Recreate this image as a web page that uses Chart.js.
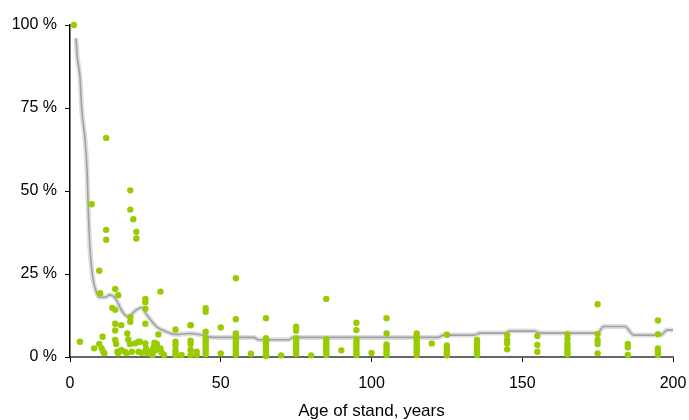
<!DOCTYPE html>
<html>
<head>
<meta charset="utf-8">
<script src="https://cdn.jsdelivr.net/npm/chart.js@4/dist/chart.umd.min.js"></script>
<style>
  html, body { margin: 0; padding: 0; background: #fff; }
  #wrap { width: 689px; height: 420px; position: relative; }
</style>
</head>
<body>
<div id="wrap"><canvas id="ageChart"></canvas></div>
<script>
// young stands, single observations (age in years, share in %)
const youngAges = [1.3, 3.3, 7.2, 8, 9.7, 9.7, 10, 10.5, 10.8, 11, 11.4, 12, 12, 12,
  14, 15, 15, 15, 15, 15, 15.3, 15.7, 16, 16, 17, 17, 18.2, 18.8, 19, 19.3, 19.9,
  20, 20, 20, 20, 20.5, 21, 21.6, 22, 22, 22.7, 22.7, 23.2, 23.8, 25, 25, 25, 25,
  25, 25.2, 25.6, 26.5, 27.4, 27.6, 28, 28, 28.5, 28.8, 29.3, 30, 30, 30.4, 31.2];
const youngShares = [100, 4.6, 46, 2.6, 3.9, 26, 19.2, 2.6, 6.1, 1.6, 1.1, 66, 38.3, 35.3,
  14.8, 20.5, 14.2, 10, 8, 5.1, 3.9, 1.6, 18.6, 1.1, 9.6, 2.1, 1.6, 1.1, 7.1, 5.3, 3.9,
  50.2, 44.4, 12, 10.6, 1.6, 41.5, 4.1, 37.7, 35.7, 4.6, 1.6, 4.6, 1.3, 17.5, 16.5, 14.5, 10,
  4.1, 2.6, 1.1, 1.6, 0.6, 2.6, 4.3, 3.3, 2.1, 3.9, 6.8, 19.7, 2.6, 1.3, 0.6];

// older stands, grouped by age class
const classAges = [35, 37, 40, 42, 45, 50, 55, 60, 65, 70, 75, 80, 85, 90, 95, 100, 105,
  115, 120, 125, 135, 145, 155, 165, 175, 185, 195];
const classShares = [
  [8.3, 4.6, 3.6, 2.1, 1.2, 0.6],
  [0.6],
  [9.6, 9.6, 4.9, 3.9, 2.1, 0.6],
  [1.6, 0.6],
  [14.7, 13.6, 7.6, 5.6, 4.8, 4, 3.2, 2.4, 1.6, 0.8],
  [8.9, 1.1],
  [23.7, 11.4, 7.1, 6.3, 5.5, 4.7, 3.9, 3.1, 2.3, 1.5, 0.7],
  [1],
  [11.7, 5.7, 4.9, 4.1, 3.3, 2.5, 1.7, 0.9, 0.3],
  [0.5],
  [9.1, 7.9, 5.7, 4.9, 4.1, 3.3, 2.5, 1.7, 0.9],
  [0.5],
  [17.5, 5.3, 4.5, 3.7, 2.9, 2.1, 1.3, 0.6],
  [2],
  [10.3, 8.1, 5.3, 4.5, 3.7, 2.9, 2.1, 1.3, 0.6],
  [1.2],
  [11.7, 7.1, 3.8, 3, 2.2, 1.4, 0.6],
  [7.1, 6.2, 5.4, 4.6, 3.8, 3, 2.2, 1.4, 0.6],
  [4.1],
  [6.7, 3.5, 2.7, 1.9, 1.1, 0.5],
  [5.1, 4.3, 3.5, 2.7, 1.9, 1.1, 0.6],
  [6.6, 5.1, 4.1, 2.3],
  [6.3, 3.6, 1.6],
  [6.9, 5.5, 4.1, 3.2, 2.3, 1.4, 0.8],
  [15.9, 6.9, 5.1, 3.9, 1.1],
  [3.9, 2.9, 0.6],
  [11, 6.9, 2.6, 1.6, 0.6]
];

// smoothed trend line
const trendAges = [2, 2.4, 3.3, 3.9, 5, 5.7, 6.1, 6.6, 7.5, 8.9, 9.7, 11.5, 13.3, 15,
  17.5, 19.3, 22, 23.8, 25.4, 28.8, 32, 35, 39.8, 44, 47.5, 61, 62.5, 72.5, 74, 122,
  124, 134, 136, 144, 146, 154, 156, 175, 177, 184, 187, 196, 198, 200];
const trendShares = [96, 90.4, 84.4, 74.4, 65.4, 55.3, 43.3, 33.2, 24.2, 19.2, 18, 18, 18.7, 17.7,
  13.5, 12.2, 14.2, 14.9, 12.8, 9.1, 7.6, 6.8, 7.1, 6.6, 5.9, 5.9, 5.2, 5.2, 5.9, 5.9,
  6.6, 6.6, 7.2, 7.2, 7.8, 7.8, 7.2, 7.2, 9.2, 9.2, 6.6, 6.6, 8.1, 8.1];

const xTicks = [0, 50, 100, 150, 200];
const yTicks = [0, 25, 50, 75, 100];

const points = youngAges.map((a, i) => ({ x: a, y: youngShares[i] }));
classAges.forEach((a, i) => classShares[i].forEach(s => points.push({ x: a, y: s })));
const trend = trendAges.map((a, i) => ({ x: a, y: trendShares[i] }));

const font = { family: "'Liberation Sans', Arial, sans-serif", size: 16 };

new Chart(document.getElementById('ageChart'), {
  type: 'scatter',
  data: {
    datasets: [
      {
        label: 'stands',
        data: points,
        backgroundColor: '#99cc00',
        borderWidth: 0,
        pointRadius: 3.2,
        clip: false
      },
      {
        label: 'trend',
        data: trend,
        showLine: true,
        borderColor: '#a2a2a2',
        borderWidth: 1.6,
        pointRadius: 0,
        cubicInterpolationMode: 'monotone'
      },
      {
        label: 'trend halo',
        data: trend,
        showLine: true,
        borderColor: 'rgba(205,205,205,0.65)',
        borderWidth: 5,
        pointRadius: 0,
        cubicInterpolationMode: 'monotone'
      }
    ]
  },
  options: {
    responsive: true,
    maintainAspectRatio: false,
    animation: false,
    layout: { padding: { top: 25, right: 16, left: 0, bottom: 0 } },
    plugins: { legend: { display: false }, tooltip: { enabled: false } },
    scales: {
      x: {
        type: 'linear',
        min: 0,
        max: 200,
        afterBuildTicks: (scale) => { scale.ticks = xTicks.map(v => ({ value: v })); },
        afterFit: (scale) => { scale.height = 63; scale.paddingLeft = 0; scale.paddingRight = 0; },
        grid: { drawOnChartArea: false, drawTicks: true, tickLength: 5, color: '#000' },
        border: { color: '#666', width: 2 },
        ticks: { color: '#000', font: font, padding: 12, maxRotation: 0 },
        title: {
          display: true,
          text: 'Age of stand, years',
          color: '#000',
          font: { family: font.family, size: 17, lineHeight: 1 },
          padding: { top: 0, bottom: 0 }
        }
      },
      y: {
        type: 'linear',
        min: 0,
        max: 100,
        afterBuildTicks: (scale) => { scale.ticks = yTicks.map(v => ({ value: v })); },
        afterFit: (scale) => { scale.width = 70; },
        grid: { drawOnChartArea: false, drawTicks: true, tickLength: 5, color: '#000' },
        border: { color: '#000', width: 1.5 },
        ticks: { color: '#000', font: font, padding: 8, callback: (v) => v + ' %' }
      }
    }
  }
});
</script>
</body>
</html>
